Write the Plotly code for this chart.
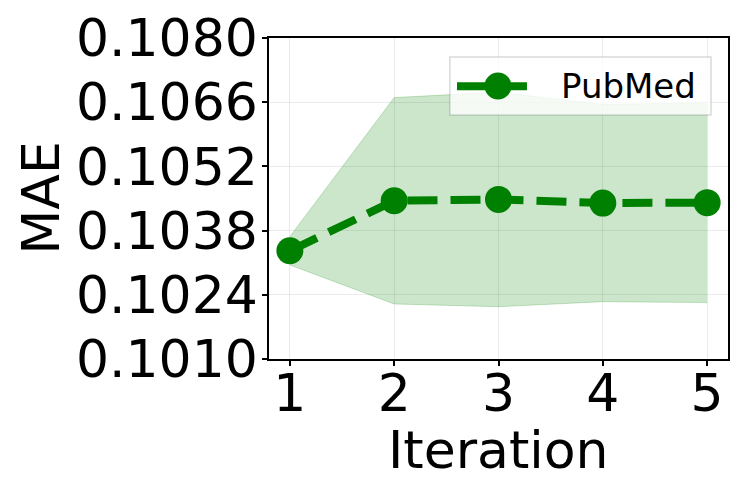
import plotly.graph_objects as go

iterations = [1, 2, 3, 4, 5]
mae_mean = [0.10336, 0.10445, 0.10448, 0.10440, 0.10441]
mae_std = [0.00031, 0.00225, 0.00234, 0.00215, 0.00218]
y_ticks = [0.1010, 0.1024, 0.1038, 0.1052, 0.1066, 0.1080]
series_name = "PubMed"

upper = [m + s for m, s in zip(mae_mean, mae_std)]
lower = [m - s for m, s in zip(mae_mean, mae_std)]

green = "#008000"
band = "rgba(0,128,0,0.2)"

fig = go.Figure()

fig.add_trace(go.Scatter(
    x=iterations, y=upper, mode="lines",
    line=dict(color=band, width=1),
    showlegend=False, hoverinfo="skip"
))
fig.add_trace(go.Scatter(
    x=iterations, y=lower, mode="lines",
    line=dict(color=band, width=1),
    fill="tonexty", fillcolor=band,
    showlegend=False, hoverinfo="skip"
))
fig.add_trace(go.Scatter(
    x=iterations, y=mae_mean, mode="lines+markers", name=series_name,
    line=dict(color=green, width=8, dash="30px,13px"),
    marker=dict(color=green, size=27),
    showlegend=False
))

axis_common = dict(
    showline=True, linecolor="black", linewidth=1.5, mirror=True,
    ticks="outside", ticklen=5, tickcolor="black", tickwidth=1.5,
    showgrid=True, gridcolor="rgba(0,0,0,0.08)", gridwidth=1,
    zeroline=False, automargin=False,
    tickfont=dict(size=52, color="black"),
)

fig.update_xaxes(range=[0.8, 5.2], tickvals=iterations,
                 ticklabelstandoff=-17, **axis_common)
fig.update_yaxes(range=[0.1010, 0.1080], tickvals=y_ticks, tickformat=".4f",
                 ticklabelstandoff=-6, **axis_common)

# axis titles
fig.add_annotation(text="Iteration", xref="paper", yref="paper",
                   x=0.5, y=0, yanchor="middle", yshift=-91,
                   showarrow=False, font=dict(size=52, color="black"))
fig.add_annotation(text="MAE", xref="paper", yref="paper", textangle=-90,
                   x=0, y=0.5, xanchor="center", xshift=-229,
                   showarrow=False, font=dict(size=52, color="black"))

# legend box drawn by hand so that it can match the large matplotlib legend
fig.add_shape(type="rect", xref="paper", yref="paper",
              x0=0.394, x1=0.963, y0=0.760, y1=0.941,
              fillcolor="rgba(255,255,255,0.8)",
              line=dict(color="rgba(0,0,0,0.15)", width=1.5), layer="above")
fig.add_shape(type="line", xref="paper", yref="paper",
              x0=0.4096, x1=0.562, y0=0.850, y1=0.850,
              line=dict(color=green, width=8), layer="above")
fig.add_shape(type="circle", xref="paper", yref="paper",
              x0=0.4695, x1=0.5283, y0=0.8084, y1=0.8925,
              fillcolor=green, line=dict(color=green, width=0), layer="above")
fig.add_annotation(text=series_name, xref="paper", yref="paper",
                   x=0.632, y=0.850, xanchor="left", yanchor="middle",
                   showarrow=False, font=dict(size=34, color="black"))

# page body has an 8px margin, so the plot area is offset accordingly
fig.update_layout(
    width=747, height=498,
    font=dict(family="DejaVu Sans", color="black"),
    plot_bgcolor="white", paper_bgcolor="white",
    margin=dict(l=261, r=27, t=30, b=147),
    showlegend=False,
)

fig.write_html("out.html")
